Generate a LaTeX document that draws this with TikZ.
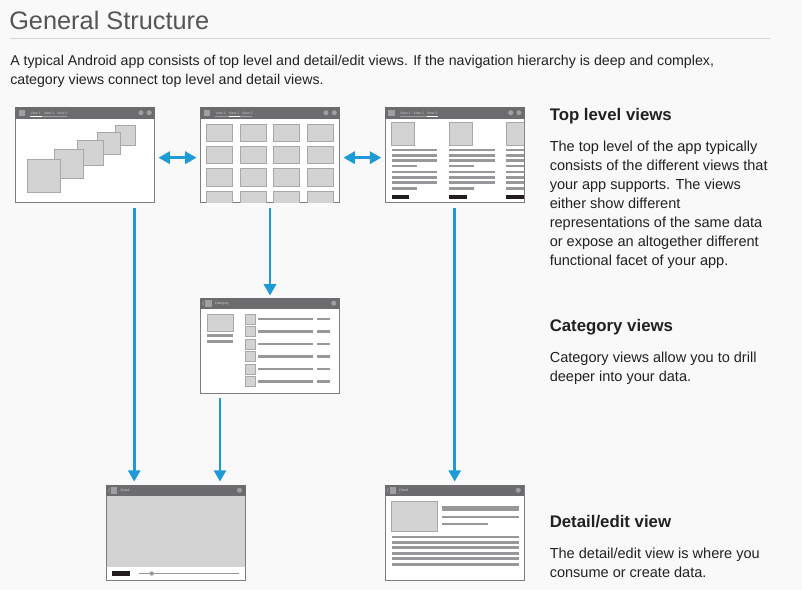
\documentclass[tikz,border=0pt]{standalone}
\usepackage{fontspec}
\setmainfont{Liberation Sans}
\usetikzlibrary{arrows.meta,positioning,calc,shadows}
\definecolor{PageGray}{RGB}{249,249,249}
\definecolor{BarGray}{RGB}{108,108,110}
\definecolor{FrameGray}{RGB}{125,125,125}
\definecolor{IconGray}{RGB}{160,160,162}
\definecolor{TileGray}{RGB}{211,211,212}
\definecolor{TileEdge}{RGB}{168,168,168}
\definecolor{LineGray}{RGB}{152,152,154}
\definecolor{ButtonDark}{RGB}{34,30,31}
\definecolor{FlowBlue}{RGB}{30,154,214}
\definecolor{InkDark}{RGB}{33,33,33}
\definecolor{TitleInk}{RGB}{85,85,85}
\definecolor{RuleGray}{RGB}{212,212,212}
\definecolor{TabText}{RGB}{205,205,205}
\tikzset{
  screen/.style={draw=FrameGray, line width=0.7pt, fill=white, inner sep=0pt,
    minimum width=104.25pt, minimum height=71.25pt,
    drop shadow={opacity=0.18, shadow xshift=0.7pt, shadow yshift=-0.7pt}},
  tile/.style={fill=TileGray, draw=TileEdge, line width=0.6pt},
  textline/.style={draw=LineGray, line width=1.9pt},
  tab/.style={anchor=base west, inner sep=0pt, text=TabText, font=\fontsize{2.6pt}{3pt}\selectfont},
  title/.style={anchor=base west, inner sep=0pt, text=TitleInk, font=\fontsize{19pt}{22pt}\selectfont},
  heading/.style={anchor=base west, inner sep=0pt, text=InkDark, font=\fontsize{12.6pt}{15pt}\selectfont\bfseries},
  body/.style={anchor=base west, inner sep=0pt, text=InkDark, font=\fontsize{10.9pt}{13pt}\selectfont},
  intro/.style={body, font=\fontsize{10.65pt}{13pt}\selectfont},
  flow/.style={draw=FlowBlue, line width=2.2pt, -{Triangle[width=9pt,length=8.5pt]}},
  flowboth/.style={flow, {Triangle[width=9pt,length=8.5pt]}-{Triangle[width=9pt,length=8.5pt]}}
}
\begin{document}
\begin{tikzpicture}[x=0.75pt, y=-0.75pt]
  \fill[PageGray] (0,0) rectangle (802,590);
  \useasboundingbox (0,0) rectangle (802,590);

  % heading and intro
  \node[title] (title) at (9,29) {General Structure};
  \draw[RuleGray, line width=0.75pt] (10,38.5) -- (770,38.5);
  \node[intro] (intro1) at (10,65) {A typical Android app consists of top level and detail/edit views. If the navigation hierarchy is deep and complex,};
  \node[intro] (intro2) at (10,84) {category views connect top level and detail views.};

  % screens
  \node[screen] (stack) at (85,155) {};
  \node[screen] (grid) at (270,155) {};
  \node[screen] (cards) at (454.7,155) {};
  \node[screen] (category) at (270,345.5) {};
  \node[screen] (media) at (175.7,532.5) {};
  \node[screen] (detail) at (454.5,532.5) {};

  % top level title bars with tabs
  \foreach \s/\a in {stack/0, grid/1, cards/2} {
    \fill[BarGray] (\s.north west) rectangle ($(\s.north east)+(0,11.5)$);
    \fill[IconGray] ($(\s.north west)+(3.5,2.5)$) rectangle ++(6.3,6);
    \foreach \k/\lab in {0/View 1, 1/View 2, 2/View 3}
      \node[tab] at ($(\s.north west)+(15.2+13.3*\k,7.2)$) {\lab};
    \draw[IconGray, line width=0.3pt] ($(\s.north west)+(15.2,9.2)$) -- ++(36.6,0);
    \draw[white, line width=0.8pt] ($(\s.north west)+(15.2+13.3*\a,9.2)$) -- ++(11.3,0);
    \fill[IconGray] ($(\s.north east)+(-14,5.7)$) circle (2.5);
    \fill[IconGray] ($(\s.north east)+(-5.7,5.7)$) circle (2.5);
  }
  % lower title bars
  \foreach \s/\lab in {category/Category, media/Detail, detail/Detail} {
    \fill[BarGray] (\s.north west) rectangle ($(\s.north east)+(0,11.5)$);
    \draw[IconGray, line width=0.4pt] ($(\s.north west)+(4,3.5)$) -- ++(-1.5,2.2) -- ++(1.5,2.2);
    \fill[IconGray] ($(\s.north west)+(5,2.5)$) rectangle ++(6.5,6.5);
    \node[tab] at ($(\s.north west)+(14.5,7.2)$) {\lab};
    \fill[IconGray] ($(\s.north east)+(-6.2,5.7)$) circle (2.5);
  }

  % stacked views
  \foreach \x/\y/\X/\Y in {115.3/125.7/135.7/145.3, 97.3/132.7/120.7/154.3,
      77.3/140/103.3/165.7, 54/149.3/83.3/178.7, 27/159.3/60.7/192.3}
    \filldraw[tile] (\x,\y) rectangle (\X,\Y);

  % grid view
  \begin{scope}
    \clip (201,120) rectangle (339,202);
    \foreach \c in {0,...,3}
      \foreach \r in {0,...,3}
        \filldraw[tile] ({206.7+33.5*\c},{124+22.3*\r}) rectangle ++(26,17.5);
  \end{scope}

  % card columns
  \begin{scope}
    \clip (386,120) rectangle (524,202);
    \foreach \x in {391.7,449,506.3} {
      \filldraw[tile] (\x,122.7) rectangle ++(23,22.6);
      \foreach \y/\w in {150/45.6, 155.3/45.6, 160.7/45.6, 165.9/25.3,
          172/45.6, 177.3/45.6, 182.7/45.6, 188.3/25.3}
        \draw[textline] (\x,\y) -- ++(\w,0);
      \fill[ButtonDark] (\x,194.7) rectangle ++(17.6,4.6);
    }
  \end{scope}

  % category list
  \filldraw[tile] (207,314) rectangle (233,331.7);
  \draw[textline] (207,335.7) -- (233,335.7);
  \draw[textline] (207,341.3) -- (233,341.3);
  \foreach \r in {0,...,5} {
    \filldraw[tile] (245,{314+12.5*\r}) rectangle ++(10.7,10);
    \draw[textline] (258.3,{319+12.5*\r}) -- ++(55,0);
    \draw[textline] (317.3,{319+12.5*\r}) -- ++(12.7,0);
  }

  % media detail
  \fill[TileGray] (106.5,496.2) rectangle (245,566.7);
  \fill[ButtonDark] (112,571) rectangle (130,576);
  \draw[LineGray, line width=0.5pt] (139,573.5) -- (239,573.5);
  \fill[LineGray] (151.7,573.5) circle (2.2);

  % text detail
  \filldraw[tile] (391.3,501.3) rectangle (437.7,531.7);
  \fill[LineGray] (442.3,505.7) rectangle (519,511);
  \draw[textline] (442.3,517) -- (519,517);
  \draw[textline] (442.3,524) -- (488.3,524);
  \foreach \y in {537,542.3,547.5,553.3,558.7,564.3}
    \draw[textline] (391.7,\y) -- (519,\y);

  % connectors
  \draw[flowboth, shorten <=2.6pt, shorten >=2.6pt] ([yshift=-2pt]stack.east) -- ([yshift=-2pt]grid.west);
  \draw[flowboth, shorten <=2.6pt, shorten >=2.6pt] ([yshift=-2pt]grid.east) -- ([yshift=-2pt]cards.west);
  \draw[flow, shorten <=3.5pt, shorten >=2.2pt] ([xshift=36.9pt]stack.south) -- ([xshift=36.9pt]stack.south |- media.north);
  \draw[flow, shorten <=3.5pt, shorten >=1.5pt] (grid.south) -- (category.north);
  \draw[flow, shorten <=3.5pt, shorten >=2.2pt] ([xshift=-37.5pt]category.south) -- ([xshift=-37.5pt]category.south |- media.north);
  \draw[flow, shorten <=3.5pt, shorten >=2.2pt] (cards.south) -- (cards.south |- detail.north);

  % descriptions
  \node[heading] (toph) at (549.5,120.7) {Top level views};
  \foreach \t [count=\i from 0] in {The top level of the app typically,
      consists of the different views that, your app supports. The views,
      either show different, representations of the same data,
      or expose an altogether different, functional facet of your app.}
    \node[body] (top\i) at (549.5,{151+19*\i}) {\t};
  \node[heading] (cath) at (549.5,331.7) {Category views};
  \node[body] (cat0) at (549.5,362.3) {Category views allow you to drill};
  \node[body] (cat1) at (549.5,381.3) {deeper into your data.};
  \node[heading] (deth) at (549.5,527.7) {Detail/edit view};
  \node[body] (det0) at (549.5,558.3) {The detail/edit view is where you};
  \node[body] (det1) at (549.5,577) {consume or create data.};
\end{tikzpicture}
\end{document}
